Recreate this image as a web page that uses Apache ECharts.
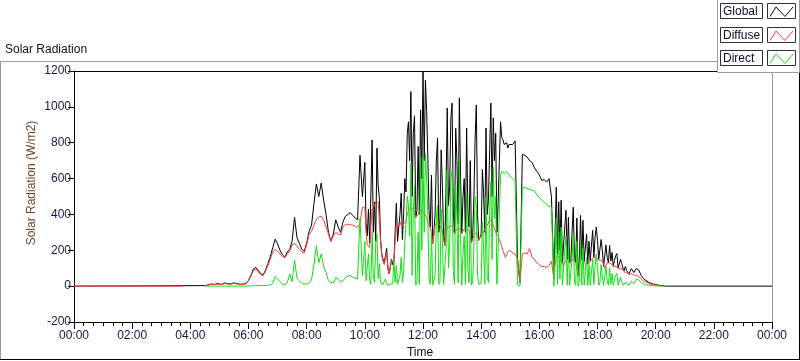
<!DOCTYPE html>
<html>
<head>
<meta charset="utf-8">
<title>Solar Radiation</title>
<script src="https://cdn.jsdelivr.net/npm/echarts@6/dist/echarts.min.js"></script>
<style>
html,body{margin:0;padding:0;background:#fff;}
#chart{width:800px;height:361px;}
</style>
</head>
<body>
<div id="chart"></div>
<script>
// readings in W/m2, split in pieces: [start minute, step in minutes]
var segA = [270, 5];    // 04:30 - 09:55
var segB = [600, 2.5];  // 10:00 - 14:57.5
var segC = [900, 5];    // 15:00 - 16:25
var segD = [990, 2.5];  // 16:30 - 18:57.5
var segE = [1140, 5];   // 19:00 - 20:30

var globalA = [
 3,6,10,12,9,15,12,10,18,16,12,14,18,15,12,10,12,16,
 32,60,95,105,88,70, 62,88,125,165,215,262,
 235,200,175,162,190,205, 250,385,270,240,205,195,
 240,305,340,460,570,500, 575,480,400,300,250,290,
 370,330,300,360,390,400, 410,395,380,370,730,500
];
var globalB = [
 690,350,280,430,240,520,815,300,470,250,770,560,
 490,260,180,150,126,170,210,100,70,110,150,120,
 140,300,462,250,330,400,518,260,406,600,525,850,
 917,700,1085,500,853,950,384,420,780,400,983,600,
 1197,700,1150,980,714,420,330,620,238,300,405,700,
 826,300,367,760,563,280,227,550,994,450,560,938,
 1021,420,294,880,700,350,1050,600,294,500,600,300,
 882,420,330,700,244,280,500,820,1011,400,255,270,
 290,650,520,300,882,400,479,760,1021,500,938,700,
 853,300,462,700,917,830,815,790,780,800,770,790
];
var globalC = [800,790,810,150,20,735, 730,720,700,690,660,640, 620,590,595,580,600,500];
var globalD = [
 40,300,552,180,470,200,479,130,120,330,423,150,
 384,130,143,300,440,160,135,380,60,140,395,150,
 367,140,130,290,126,250,140,150,311,160,272,330,
 255,150,160,260,200,110,104,230,160,130,227,140,
 188,110,143,170,182,100,104,150,126,100,87,110
];
var globalE = [87,70,98,76,98,90, 60,42,31,22,16,12, 8,6,4,2,0,0,0];

var diffuseA = [
 2,5,8,10,8,12,10,8,15,14,10,12,15,13,10,8,10,14,
 30,55,88,96,80,65, 58,82,115,150,190,205,
 195,180,165,158,180,195, 230,238,225,205,190,185,
 230,290,305,340,370,385, 390,370,330,290,250,280,
 300,290,285,330,345,345, 345,340,335,325,350,440
];
var diffuseB = [
 440,300,230,220,215,330,430,440,450,470,480,470,
 460,250,170,140,120,160,190,110,68,100,145,140,
 135,250,350,330,320,340,360,340,330,350,365,400,
 420,430,440,450,430,400,384,390,400,420,410,420,
 430,410,400,380,360,340,330,300,238,290,340,350,
 360,350,340,330,310,260,227,280,330,340,330,335,
 340,310,294,310,320,325,330,310,294,300,320,330,
 320,315,310,280,244,260,280,290,300,280,255,265,
 280,290,300,320,330,340,350,370,380,360,340,320,
 300,290,280,260,244,220,200,180,160,175,190,195
];
var diffuseC = [200,185,180,150,20,180, 185,180,210,160,150,130, 120,110,110,104,115,140];
var diffuseD = [
 38,120,170,168,165,158,150,130,115,130,145,148,
 150,145,140,145,150,140,130,100,60,110,150,150,
 150,140,125,124,122,128,135,150,160,162,160,155,
 150,145,140,145,150,125,100,115,130,132,130,125,
 120,115,110,112,110,100,95,98,100,90,80,78
];
var diffuseE = [75,65,70,62,60,55, 40,30,22,16,12,9, 5,3,1];

var directA = [
 0,0,0,0,0,0,0,0,0,0,0,0,0,0,0,0,0,0,
 1,2,2,3,3,3, 3,3,5,8,15,55,
 40,25,12,8,20,68, 25,145,45,30,15,12,
 12,15,35,120,225,130, 180,110,75,30,20,18,
 48,40,25,30,48,55, 60,50,45,40,380,60
];
var directB = [
 250,30,40,180,30,10,300,60,20,240,290,40,
 125,20,10,8,5,40,20,5,3,10,8,15,
 150,20,115,10,10,60,160,20,75,250,348,500,
 450,280,684,60,420,560,5,20,300,10,720,200,
 720,300,740,600,390,40,10,300,5,10,60,380,
 451,10,25,430,250,10,5,200,647,100,230,600,
 647,80,10,560,380,20,720,260,5,180,280,10,
 517,100,20,400,5,20,220,500,450,60,10,10,
 15,360,200,10,496,60,20,420,580,150,665,380,
 500,10,10,400,620,640,647,630,635,640,630,620
];
var directC = [612,600,590,8,0,555, 550,545,540,535,530,510, 495,480,470,455,445,440];
var directD = [
 0,180,380,10,300,40,330,5,5,200,280,5,
 230,5,5,150,290,20,5,250,0,30,240,5,
 210,5,5,160,3,120,5,5,150,10,110,180,
 105,5,20,120,50,5,4,110,30,5,100,10,
 70,5,33,60,72,5,8,50,25,5,5,20
];
var directE = [12,5,28,14,38,35, 20,12,8,5,3,2, 2,1,1,0];

// night parts [minute, value]
var globalNight = [[0,0],[1440,0]];
var diffuseNight = [[0,0],[225,0]];

var timeLabels = ['00:00','02:00','04:00','06:00','08:00','10:00','12:00','14:00','16:00','18:00','20:00','22:00','00:00'];

function toPairs(vals, seg){
	var out=[];
	for(var i=0;i<vals.length;i++){
		out.push([seg[0]+i*seg[1], vals[i]]);
	}
	return out;
}
function daySeries(a,b,c,d,e){
	return toPairs(a,segA).concat(toPairs(b,segB),toPairs(c,segC),toPairs(d,segD),toPairs(e,segE));
}

var globalData = [globalNight[0]].concat(daySeries(globalA,globalB,globalC,globalD,globalE), [globalNight[1]]);
var diffuseData = diffuseNight.concat([[240,'-']], daySeries(diffuseA,diffuseB,diffuseC,diffuseD,diffuseE));
var directData = daySeries(directA,directB,directC,directD,directE);

var font = '"Liberation Sans", Arial, sans-serif';
var labelColor = '#16164a';

function legendRow(y, name, color){
	return [
		{type:'rect', z:101, shape:{x:720.5,y:y+0.5,width:42,height:15}, style:{fill:'#fff',stroke:'#303030',lineWidth:1}},
		{type:'text', z:102, style:{x:723,y:y+8.5,text:name,fill:'#0a0a30',font:'12px '+font,verticalAlign:'middle'}},
		{type:'rect', z:101, shape:{x:767.5,y:y+0.5,width:28,height:15}, style:{fill:'#fff',stroke:'#303030',lineWidth:1}},
		{type:'polyline', z:102, shape:{points:[[770,y+13.5],[776,y+4],[785,y+13.5],[793,y+4]]}, style:{stroke:color,lineWidth:1,fill:null}}
	];
}

var graphics = [
	// outer frame
	{type:'line', z:90, shape:{x1:0,y1:61.5,x2:717,y2:61.5}, style:{stroke:'#9a9a9a',lineWidth:1}},
	{type:'line', z:90, shape:{x1:0.5,y1:61,x2:0.5,y2:359}, style:{stroke:'#9a9a9a',lineWidth:1}},
	{type:'line', z:90, shape:{x1:0,y1:359.5,x2:800,y2:359.5}, style:{stroke:'#000',lineWidth:1}},
	{type:'line', z:90, shape:{x1:799.5,y1:72,x2:799.5,y2:360}, style:{stroke:'#000',lineWidth:1}},
	// plot border top/right
	{type:'line', z:90, shape:{x1:74,y1:71.5,x2:772,y2:71.5}, style:{stroke:'#000',lineWidth:1}},
	{type:'line', z:90, shape:{x1:772.5,y1:71,x2:772.5,y2:322}, style:{stroke:'#9a9a9a',lineWidth:1}},
	// titles
	{type:'text', z:95, style:{x:5,y:50,text:'Solar Radiation',fill:'#111',font:'12px '+font,verticalAlign:'middle'}},
	{type:'text', z:95, x:32, y:183, rotation:Math.PI/2, style:{x:0,y:0,text:'Solar Radiation (W/m2)',fill:'#6b4523',font:'12px '+font,align:'center',verticalAlign:'middle'}},
	{type:'text', z:95, style:{x:420,y:353,text:'Time',fill:'#111',font:'12px '+font,align:'center',verticalAlign:'middle'}},
	// legend panel
	{type:'rect', z:100, shape:{x:717.5,y:-1,width:82,height:73.5}, style:{fill:'#fff',stroke:'#9a9a9a',lineWidth:1}}
].concat(legendRow(3,'Global','#000000'), legendRow(27,'Diffuse','#ff3c3c'), legendRow(50,'Direct','#12e012'));

var myChart = echarts.init(document.getElementById('chart'));
var option = {
	animation:false,
	backgroundColor:'#fff',
	grid:{left:74,right:28,top:71,bottom:39,containLabel:false},
	xAxis:{
		type:'value', min:0, max:1440, interval:120,
		axisLine:{show:true,onZero:false,lineStyle:{color:'#000',width:1}},
		axisTick:{show:true,length:7,lineStyle:{color:'#000'}},
		minorTick:{show:true,splitNumber:6,length:4,lineStyle:{color:'#000'}},
		splitLine:{show:false},
		axisLabel:{margin:8,color:labelColor,fontSize:12,fontFamily:font,
			formatter:function(v){ return timeLabels[Math.round(v/120)]; }}
	},
	yAxis:{
		type:'value', min:-200, max:1200, interval:200,
		axisLine:{show:true,lineStyle:{color:'#000',width:1}},
		axisTick:{show:true,length:6,lineStyle:{color:'#000'}},
		splitLine:{show:false},
		axisLabel:{margin:3,color:labelColor,fontSize:12,fontFamily:font,
			formatter:function(v){ return String(v); }}
	},
	series:[
		{name:'Global',type:'line',data:globalData,showSymbol:false,symbol:'none',lineStyle:{color:'#000000',width:1},itemStyle:{color:'#000'},z:2},
		{name:'Diffuse',type:'line',data:diffuseData,showSymbol:false,symbol:'none',lineStyle:{color:'#ff3c3c',width:1},itemStyle:{color:'#ff3c3c'},z:3},
		{name:'Direct',type:'line',data:directData,showSymbol:false,symbol:'none',lineStyle:{color:'#12e012',width:1},itemStyle:{color:'#12e012'},z:4}
	],
	graphic:graphics
};
myChart.setOption(option);
</script>
</body>
</html>
